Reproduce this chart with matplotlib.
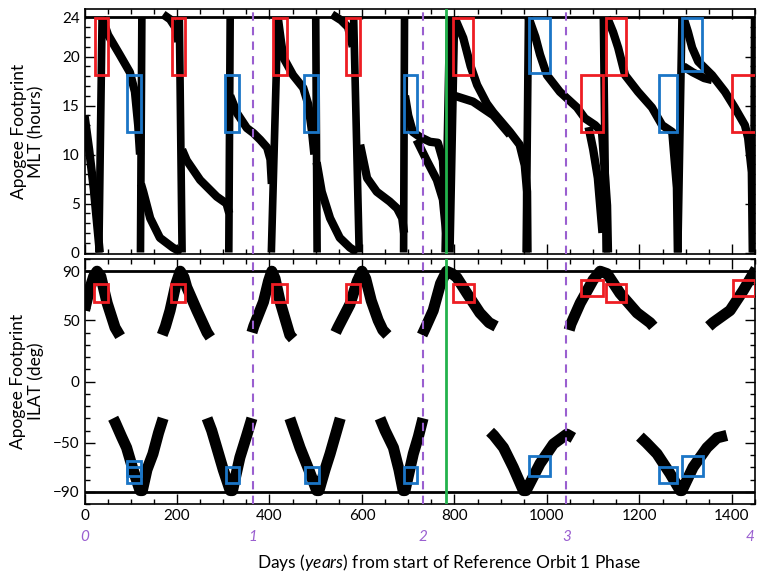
import matplotlib
matplotlib.use('Agg')
import matplotlib.pyplot as plt
import matplotlib.ticker as ticker
from matplotlib.patches import Rectangle

# ---- data (day, value) ----
# near-vertical MLT bands running from 0 h up to 24 h: (day at 0 h, day at 24 h)
mlt_bands = [(31, 38), (121, 124), (211, 205), (312, 315), (404, 418), (503, 500),
             (594, 582), (690, 692), (785, 795), (955, 960), (1128, 1122),
             (1283, 1292), (1447, 1449)]

# descending MLT branches
mlt_a = [(0, 14), (10, 10.5), (20, 6.5), (27, 3), (33, 0)]
mlt_b = [(38, 24), (45, 23), (51, 22.2), (76, 20.2), (98, 18.4), (109, 16.4), (116, 13), (120, 10)]
mlt_c = [(122, 7), (127, 6.2), (142, 3.5), (163, 1.5), (191, 0.5), (210, 0)]
mlt_d = [(170, 24.3), (185, 23.8), (196, 23), (203, 21.5)]
mlt_e = [(211, 10.5), (221, 9.4), (250, 7.4), (286, 5.7), (307, 5.0), (313, 4)]
mlt_f = [(315, 16), (330, 14.2), (351, 12.7), (365, 12.2), (380, 11.5), (395, 10.7), (402, 9.5), (405, 7)]
mlt_g = [(418, 24), (425, 21.5), (430, 19.9), (451, 18.1), (473, 16.8), (484, 15.1), (492, 12.3), (497, 10)]
mlt_h = [(502, 9.2), (513, 6.2), (531, 3.5), (552, 1.5), (574, 0.5), (590, 0)]
mlt_i = [(535, 24.3), (555, 23.7), (570, 23), (580, 21)]
mlt_j = [(596, 11), (611, 7.6), (632, 6.2), (660, 5.2), (676, 4.5), (687, 3.5), (691, 2)]
mlt_k = [(693, 16), (700, 14), (710, 12.3), (725, 11.8), (747, 11.3), (764, 11.2), (775, 9.4), (780, 5.4), (784, 0.6)]
mlt_l = [(718, 11.5), (740, 9.4), (762, 7.4), (775, 5.4), (782, 2)]
mlt_m = [(800, 24), (819, 21.9), (835, 19), (849, 17.1), (870, 15.2), (884, 14.3), (920, 12.3),
         (941, 11), (952, 8.9), (957, 6.2), (958, 0)]
mlt_n = [(800, 16), (840, 15.4), (884, 14.0), (920, 12.0)]
mlt_o = [(960, 24), (975, 22), (985, 20.2), (1000, 18.1), (1028, 16.4), (1065, 14.8), (1082, 13.7),
         (1104, 13.0), (1119, 12.3), (1121, 11), (1125, 8.2), (1130, 4.8), (1132, 0)]
mlt_p = [(1090, 12.8), (1100, 10.5), (1110, 7.6), (1115, 4.8), (1120, 2)]
mlt_q = [(1130, 24), (1143, 22.5), (1154, 20.9), (1169, 18.1), (1197, 16.4), (1227, 14.8),
         (1249, 13.0), (1271, 12.3), (1275, 10), (1281, 6.6), (1283, 0)]
mlt_r = [(1295, 24), (1305, 22.5), (1314, 20.9), (1327, 19.5), (1357, 18.1), (1385, 16.4),
         (1406, 14.8), (1428, 13.0), (1435, 11.7), (1443, 8.2), (1445, 0)]
mlt_s = [(1295, 19), (1315, 18.4), (1340, 17.8), (1357, 17.6)]

# ILAT arcs, northern hemisphere
ilat_n1 = [(0, 58), (10, 74), (20, 86), (27, 90), (35, 86), (49, 64), (66, 44), (77, 37)]
ilat_n2 = [(168, 38), (175, 45), (185, 58), (198, 80), (207, 90), (215, 85), (221, 77), (243, 58), (265, 40), (272, 36)]
ilat_n3 = [(362, 40), (366, 45), (387, 65), (398, 82), (405, 90), (412, 84), (423, 65), (444, 38), (451, 35)]
ilat_n4 = [(543, 40), (548, 44), (574, 63), (590, 82), (600, 90), (608, 84), (620, 66), (635, 50), (645, 42), (655, 38)]
ilat_n5 = [(730, 38), (735, 42), (754, 58), (770, 80), (783, 90), (795, 88), (805, 85), (827, 72),
           (855, 56), (875, 48), (890, 45)]
ilat_n6 = [(1048, 42), (1052, 47), (1072, 64), (1100, 83), (1115, 90), (1130, 88), (1158, 72),
           (1195, 56), (1223, 48), (1230, 45)]
ilat_n7 = [(1350, 45), (1359, 48), (1396, 58), (1424, 74), (1446, 88), (1452, 92)]

# ILAT arcs, southern hemisphere
ilat_s1 = [(62, -30), (66, -33), (80, -45), (91, -54), (105, -72), (120, -89), (125, -89),
           (135, -72), (148, -59), (160, -42), (170, -30)]
ilat_s2 = [(265, -30), (275, -40), (286, -54), (300, -72), (315, -89), (320, -89), (336, -62), (350, -45), (362, -30)]
ilat_s3 = [(444, -30), (455, -42), (466, -54), (485, -72), (502, -89), (507, -89), (520, -72), (531, -59), (553, -30)]
ilat_s4 = [(639, -30), (650, -40), (668, -54), (680, -72), (689, -89), (693, -89), (711, -59), (722, -45), (732, -30)]
ilat_s5 = [(877, -41), (885, -44), (906, -54), (927, -70), (949, -89), (955, -89), (985, -67),
           (1014, -51), (1043, -43), (1057, -46)]
ilat_s6 = [(1201, -45), (1215, -50), (1238, -59), (1266, -75), (1288, -89), (1292, -89),
           (1316, -70), (1346, -54), (1368, -46), (1389, -44)]

# highlight boxes: (day start, day end, low, high)
red_top = [(23, 51, 18.1, 23.9), (189, 217, 18.1, 23.9), (407, 437, 18.1, 23.9),
           (565, 596, 18.1, 23.9), (797, 840, 18.1, 23.9), (1128, 1171, 18.1, 23.9),
           (1073, 1121, 12.3, 18.1), (1400, 1452, 12.3, 18.1)]
blue_top = [(92, 122, 12.3, 18.1), (304, 334, 12.3, 18.1), (474, 505, 12.3, 18.1),
            (691, 719, 12.3, 18.1), (1242, 1281, 12.3, 18.1),
            (961, 1006, 18.3, 23.9), (1292, 1335, 18.5, 23.9)]
red_bot = [(21, 51, 65, 80), (187, 217, 65, 80), (405, 437, 65, 80), (565, 596, 65, 80),
           (797, 842, 65, 80), (1128, 1171, 65, 80), (1073, 1121, 69.5, 82.6), (1402, 1450, 69.5, 82.6)]
blue_bot = [(92, 122, -82.7, -70), (92, 122, -77.5, -64.7), (305, 334, -82.7, -70),
            (477, 507, -82.7, -70), (691, 719, -82.7, -70), (1242, 1281, -82.7, -70),
            (961, 1006, -77.5, -61), (1293, 1337, -77.5, -61)]

year_days = [0, 365, 731, 1042, 1440]
year_labels = ['0', '1', '2', '3', '4']
year_lines = [365, 731, 1042]
ref_day = 782

purple = '#9a5fd0'
green = '#22b24c'
red = '#ee1d23'
blue = '#1b75c6'

plt.rcParams['font.family'] = ['Lato', 'DejaVu Sans']
plt.rcParams['mathtext.fontset'] = 'custom'
plt.rcParams['mathtext.rm'] = 'Lato'
plt.rcParams['mathtext.it'] = 'Lato:italic'

fig = plt.figure(figsize=(7.58, 5.78), dpi=100)
ax1 = fig.add_axes([0.1115, 0.5606, 0.8846, 0.4238])
ax2 = fig.add_axes([0.1115, 0.128, 0.8846, 0.4239])


def draw_track(ax, pts, lw):
    xs, ys = zip(*pts)
    ax.plot(xs, ys, color='k', lw=lw, solid_capstyle='butt', solid_joinstyle='round')


# MLT panel
for b0, b1 in mlt_bands:
    ax1.plot([b0, b1], [0, 24], color='k', lw=9 if b0 == 785 else 5.5, solid_capstyle='butt')
for trk in [mlt_a, mlt_b, mlt_c, mlt_d, mlt_e, mlt_f, mlt_g, mlt_h, mlt_i, mlt_j, mlt_k,
            mlt_l, mlt_m, mlt_n, mlt_o, mlt_p, mlt_q, mlt_r, mlt_s]:
    draw_track(ax1, trk, 6)
ax1.axhline(24, color='k', lw=2)

# ILAT panel
for trk in [ilat_n1, ilat_n2, ilat_n3, ilat_n4, ilat_n5, ilat_n6, ilat_n7,
            ilat_s1, ilat_s2, ilat_s3, ilat_s4, ilat_s5, ilat_s6]:
    draw_track(ax2, trk, 8)
ax2.axhline(90, color='k', lw=2)
ax2.axhline(-90, color='k', lw=2)

for ax, boxes, col in [(ax1, red_top, red), (ax1, blue_top, blue),
                       (ax2, red_bot, red), (ax2, blue_bot, blue)]:
    for d0, d1, lo, hi in boxes:
        ax.add_patch(Rectangle((d0, lo), d1 - d0, hi - lo, fill=False,
                               edgecolor=col, lw=2, zorder=5))

for ax in (ax1, ax2):
    for d in year_lines:
        ax.axvline(d, color=purple, ls=(0, (4, 3)), lw=1.5, zorder=6)
    ax.axvline(ref_day, color=green, lw=2, zorder=7)
    ax.set_xlim(0, 1450)
    ax.xaxis.set_major_locator(ticker.MultipleLocator(200))
    ax.xaxis.set_minor_locator(ticker.MultipleLocator(50))
    ax.tick_params(which='both', direction='in', top=True, right=True, labelsize=11, width=1)
    ax.tick_params(which='major', length=7)
    ax.tick_params(which='minor', length=3.5)
    for sp in ax.spines.values():
        sp.set_linewidth(1.2)

ax1.set_ylim(-0.15, 24.85)
ax1.set_yticks([0, 5, 10, 15, 20, 24])
ax1.yaxis.set_minor_locator(ticker.MultipleLocator(1))
ax1.tick_params(labelbottom=False)
ax1.set_ylabel('Apogee Footprint\nMLT (hours)', fontsize=12.5, linespacing=1.1)
ax1.yaxis.set_label_coords(-0.06, 0.5)

ax2.set_ylim(-100, 100)
ax2.set_yticks([-90, -50, 0, 50, 90])
ax2.yaxis.set_minor_locator(ticker.MultipleLocator(10))
ax2.set_ylabel('Apogee Footprint\nILAT (deg)', fontsize=12.5, linespacing=1.1)
ax2.yaxis.set_label_coords(-0.06, 0.5)

trans = ax2.get_xaxis_transform()
for d, lab in zip(year_days, year_labels):
    ax2.text(d, -0.135, lab, transform=trans, ha='center', va='center', color=purple,
             fontsize=11, style='italic', clip_on=False)

fig.text(0.592, 0.009, r'Days ($\mathit{years}$) from start of Reference Orbit 1 Phase',
         ha='center', va='bottom', fontsize=12.5)

fig.savefig('out.png', dpi=100)
